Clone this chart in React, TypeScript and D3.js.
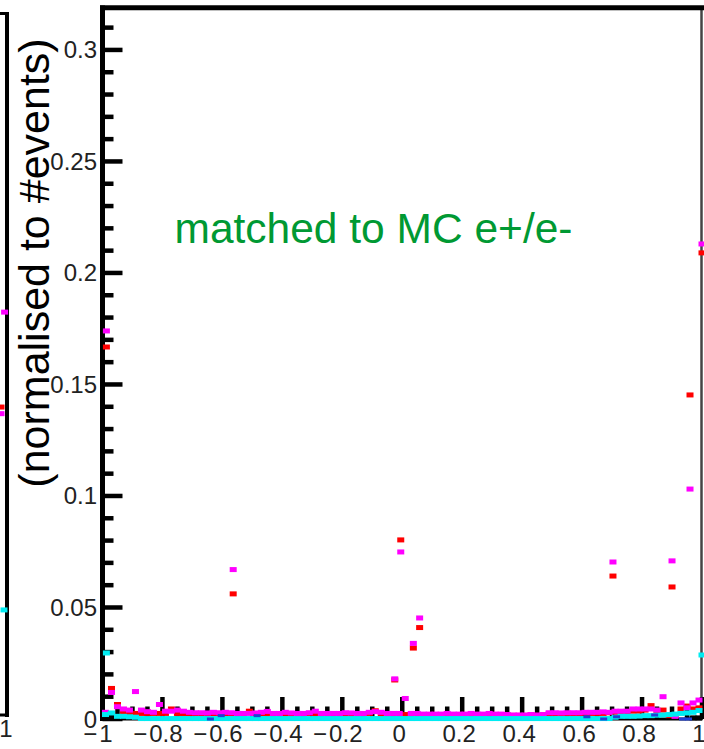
import React from 'react';
import * as d3 from 'd3';

const W = 704;
const H = 749;

// Axis ticks
const xTickValues = [-1, -0.8, -0.6, -0.4, -0.2, 0, 0.2, 0.4, 0.6, 0.8, 1];
const xTickLabels = ['−\u200A1', '−\u200A0.8', '−\u200A0.6', '−\u200A0.4', '−\u200A0.2', '0', '0.2', '0.4', '0.6', '0.8', '1'];
const yTickValues = [0, 0.05, 0.1, 0.15, 0.2, 0.25, 0.3];
const yTickLabels = ['0', '0.05', '0.1', '0.15', '0.2', '0.25', '0.3'];

const yTitle = '(normalised to #events)';
const annotation = 'matched to MC e+/e-';

// Histogram binning: 100 bins over [-1, 1]
const binLow = -1;
const binHigh = 1;
const nBins = 100;

// Low-level contents per bin
const magentaBins = [
  0.003, 0.0119, 0.0055, 0.0045, 0.004, 0.0123, 0.004, 0.0033, 0.003, 0.0065,
  0.0035, 0.0035, 0.004, 0.0035, 0.003, 0.0028, 0.0028, 0.0027, 0.003, 0.0028,
  0.003, 0.0028, 0.0025, 0.0025, 0.0025, 0.0027, 0.003, 0.0034, 0.0025, 0.0025,
  0.003, 0.0027, 0.0025, 0.0025, 0.0028, 0.0035, 0.0025, 0.0025, 0.0025, 0.0025,
  0.0028, 0.0027, 0.0025, 0.0025, 0.003, 0.0033, 0.003, 0.0025, 0.0025, 0.0025,
  0.0092, 0.0025, 0.0025, 0.0022, 0.0022, 0.0022, 0.0022, 0.0025, 0.0022, 0.0022,
  0.0022, 0.0025, 0.0022, 0.0022, 0.0025, 0.0022, 0.0022, 0.002, 0.0018, 0.0018,
  0.0018, 0.002, 0.0018, 0.002, 0.0028, 0.0028, 0.0027, 0.0028, 0.0028, 0.0028,
  0.003, 0.003, 0.003, 0.0032, 0.003, 0.0035, 0.0035, 0.0035, 0.0045, 0.0045,
  0.0045, 0.0045, 0.004, 0.01, 0, 0.0012, 0.0072, 0.005, 0.0072, 0.0085,
];

const redBins = [
  0.0025, 0.0137, 0.0065, 0.003, 0.0028, 0.0025, 0.0025, 0.0025, 0.0025, 0.0025,
  0.0025, 0.0045, 0.0025, 0.0022, 0.0022, 0.0022, 0.0022, 0.0022, 0.0022, 0.0022,
  0.0022, 0.0022, 0.0022, 0.0022, 0.0035, 0.0022, 0.0022, 0.0022, 0.002, 0.002,
  0.002, 0.002, 0.002, 0.002, 0.0025, 0.002, 0.002, 0.002, 0.002, 0.002,
  0.002, 0.002, 0.002, 0.002, 0.0025, 0.0037, 0.002, 0.002, 0.002, 0.002,
  0.002, 0.002, 0.002, 0.002, 0.002, 0.002, 0.002, 0.002, 0.002, 0.002,
  0.002, 0.002, 0.002, 0.002, 0.002, 0.002, 0.002, 0.0018, 0.0016, 0.0016,
  0.0016, 0.0018, 0.0016, 0.0018, 0.0022, 0.0022, 0.0022, 0.0022, 0.0022, 0.0022,
  0.0025, 0.0025, 0.0025, 0.0025, 0.0028, 0.003, 0.003, 0.003, 0.0035, 0.0035,
  0.004, 0.006, 0.0035, 0.004, 0.0015, 0.0015, 0.0045, 0.0058, 0.0045, 0.005,
];

const cyanBins = [
  0.002, 0.0027, 0.0012, 0.0012, 0.001, 0.0008, 0.0002, 0.0002, 0.0002, 0.0002,
  0.0002, 0.0002, 0.0002, 0.0002, 0.0002, 0.0002, 0.0002, 0.0002, 0.0002, 0.0002,
  0.0002, 0.0002, 0.0002, 0.0002, 0.0002, 0.0002, 0.0002, 0.0002, 0.0002, 0.0002,
  0.0002, 0.0002, 0.0002, 0.0002, 0.0002, 0.0002, 0.0002, 0.0002, 0.0002, 0.0002,
  0.0002, 0.0002, 0.0002, 0.0002, 0.0002, 0.0002, 0.0002, 0.0002, 0.0002, 0.0002,
  0.0002, 0.0002, 0.0002, 0.0002, 0.0002, 0.0002, 0.0002, 0.0002, 0.0002, 0.0002,
  0.0002, 0.0002, 0.0002, 0.0002, 0.0002, 0.0002, 0.0002, 0.0002, 0.0002, 0.0002,
  0.0002, 0.0002, 0.0002, 0.0002, 0.0002, 0.0002, 0.0002, 0.0002, 0.0002, 0.0002,
  0.0002, 0.0002, 0.0002, 0.0002, 0.0002, 0.0008, 0.0012, 0.0012, 0.0012, 0.0013,
  0.0015, 0.0015, 0.0017, 0.0018, 0.002, 0.0022, 0.0025, 0.0027, 0.003, 0.0038,
];

// Isolated high points [x, value]
const magentaPeaks: [number, number][] = [
  [-0.987, 0.174], [-0.564, 0.067], [-0.025, 0.018], [-0.005, 0.0749],
  [0.037, 0.0339], [0.058, 0.0453], [0.703, 0.0704], [0.9, 0.0709],
  [0.96, 0.1031], [1.0, 0.213],
];
const redPeaks: [number, number][] = [
  [-0.987, 0.1668], [-0.564, 0.0561], [-0.025, 0.0175], [-0.005, 0.0803],
  [0.037, 0.0318], [0.058, 0.041], [0.703, 0.0641], [0.9, 0.0592],
  [0.96, 0.1453], [1.0, 0.209],
];
const cyanPeaks: [number, number][] = [[-0.987, 0.0296], [1.0, 0.0287]];
const bluePoints: [number, number][] = [
  [-0.64, 0], [-0.604, 0.0015], [-0.484, 0.0015], [0.616, 0.001], [0.672, 0],
  [0.715, 0.001], [0.842, 0.0018], [0.935, 0], [0.955, 0],
];
const blackPoints: [number, number][] = [[-0.97, 0.0008], [0.97, 0.0005], [0.99, 0.0005]];

// Neighbouring pad (right edge only visible)
const neighbourMagenta: [number, number][] = [[0.992, 0.1825], [0.98, 0.1365]];
const neighbourRed: [number, number][] = [[0.98, 0.1395]];
const neighbourCyan: [number, number][] = [[0.99, 0.0476]];

const FONT = "'Liberation Sans', Arial, Helvetica, sans-serif";
const COLORS = {
  red: '#ff0000',
  magenta: '#ff00ff',
  cyan: '#00ecf2',
  blue: '#1f3fd6',
  black: '#000000',
  green: '#009933',
};

export default function App() {
  const x = d3.scaleLinear().domain([-1, 1]).range([102.5, 702]);
  const y = d3.scaleLinear().domain([0, 0.3188]).range([719, 8]);

  // neighbouring pad scales
  const xL = d3.scaleLinear().domain([-1, 1]).range([-592, 7]);
  const yL = d3.scaleLinear().domain([0, 0.318]).range([715, 13]);

  const binWidth = (binHigh - binLow) / nBins;
  const centers = d3.range(nBins).map((i) => binLow + (i + 0.5) * binWidth);
  const toPts = (vals: number[]): [number, number][] =>
    vals.map((v, i) => [centers[i], v] as [number, number]).filter((p) => p[1] > 0);

  const xMinor = d3.range(-1, 1.0001, 0.05);
  const yMinor = d3.range(0, 0.3101, 0.01);

  const mw = 7;
  const mh = 5;
  const markers = (pts: [number, number][], color: string, key: string, h = mh, sx = x, sy = y) =>
    pts.map((p, i) => (
      <rect
        key={key + i}
        x={sx(p[0]) - mw / 2}
        y={sy(p[1]) - h / 2}
        width={mw}
        height={h}
        fill={color}
      />
    ));

  return (
    <svg
      width={W}
      height={H}
      style={{ position: 'absolute', left: 0, top: 0, background: '#fff' }}
      fontFamily={FONT}
    >
      <rect x={0} y={0} width={W} height={H} fill="#fff" />

      {/* neighbouring pad frame */}
      <line x1={7} x2={7} y1={12} y2={717} stroke="#000" strokeWidth={4} />
      <line x1={0} x2={9} y1={13.5} y2={13.5} stroke="#000" strokeWidth={3} />
      <line x1={0} x2={9} y1={715} y2={715} stroke="#000" strokeWidth={3} />
      {markers(neighbourRed, COLORS.red, 'nr', mh, xL, yL)}
      {markers(neighbourMagenta, COLORS.magenta, 'nm', mh, xL, yL)}
      {markers(neighbourCyan, COLORS.cyan, 'nc', mh, xL, yL)}
      <text x={6} y={737} fontSize={24} textAnchor="middle" fill="#222">1</text>

      {/* frame */}
      <line x1={100} x2={702} y1={719} y2={719} stroke="#000" strokeWidth={3} />
      <line x1={701.5} x2={701.5} y1={8} y2={720} stroke="#444" strokeWidth={2.5} />
      <line x1={100} x2={704} y1={7.75} y2={7.75} stroke="#000" strokeWidth={5} />
      <line x1={102.5} x2={102.5} y1={5.5} y2={721} stroke="#000" strokeWidth={5} />

      {/* x ticks */}
      {xMinor.map((v, i) => {
        const major = i % 4 === 0;
        return (
          <line
            key={'xt' + i}
            x1={x(v)}
            x2={x(v)}
            y1={719}
            y2={major ? 697 : 706.5}
            stroke="#000"
            strokeWidth={4.5}
          />
        );
      })}
      {/* y ticks */}
      {yMinor.map((v, i) => {
        const major = i % 5 === 0;
        return (
          <line
            key={'yt' + i}
            x1={102.5}
            x2={major ? 122.5 : 113.5}
            y1={y(v)}
            y2={y(v)}
            stroke="#000"
            strokeWidth={4.5}
          />
        );
      })}

      {/* data */}
      {markers(blackPoints, COLORS.black, 'k')}
      {markers(toPts(redBins), COLORS.red, 'rb')}
      {markers(redPeaks, COLORS.red, 'rp')}
      {markers(toPts(magentaBins), COLORS.magenta, 'mb')}
      {markers(magentaPeaks, COLORS.magenta, 'mp')}
      {markers(toPts(cyanBins), COLORS.cyan, 'cb')}
      {markers(cyanPeaks, COLORS.cyan, 'cp')}
      {markers(bluePoints, COLORS.blue, 'b', 3)}

      {/* tick labels */}
      {yTickValues.map((v, i) => (
        <text key={'yl' + i} x={97} y={y(v) + 8.5} fontSize={24} textAnchor="end" fill="#222">
          {yTickLabels[i]}
        </text>
      ))}
      {xTickValues.map((v, i) => (
        <text
          key={'xl' + i}
          x={x(v) - (v < 0 ? 4.5 : 3)}
          y={742}
          fontSize={24}
          textAnchor="middle"
          fill="#222"
        >
          {xTickLabels[i]}
        </text>
      ))}

      {/* axis title */}
      <text
        transform="translate(49,263) rotate(-90)"
        fontSize={43}
        textAnchor="middle"
        fill="#000"
      >
        {yTitle}
      </text>

      <text x={174.5} y={243} fontSize={42.5} fill={COLORS.green}>
        {annotation}
      </text>
    </svg>
  );
}
